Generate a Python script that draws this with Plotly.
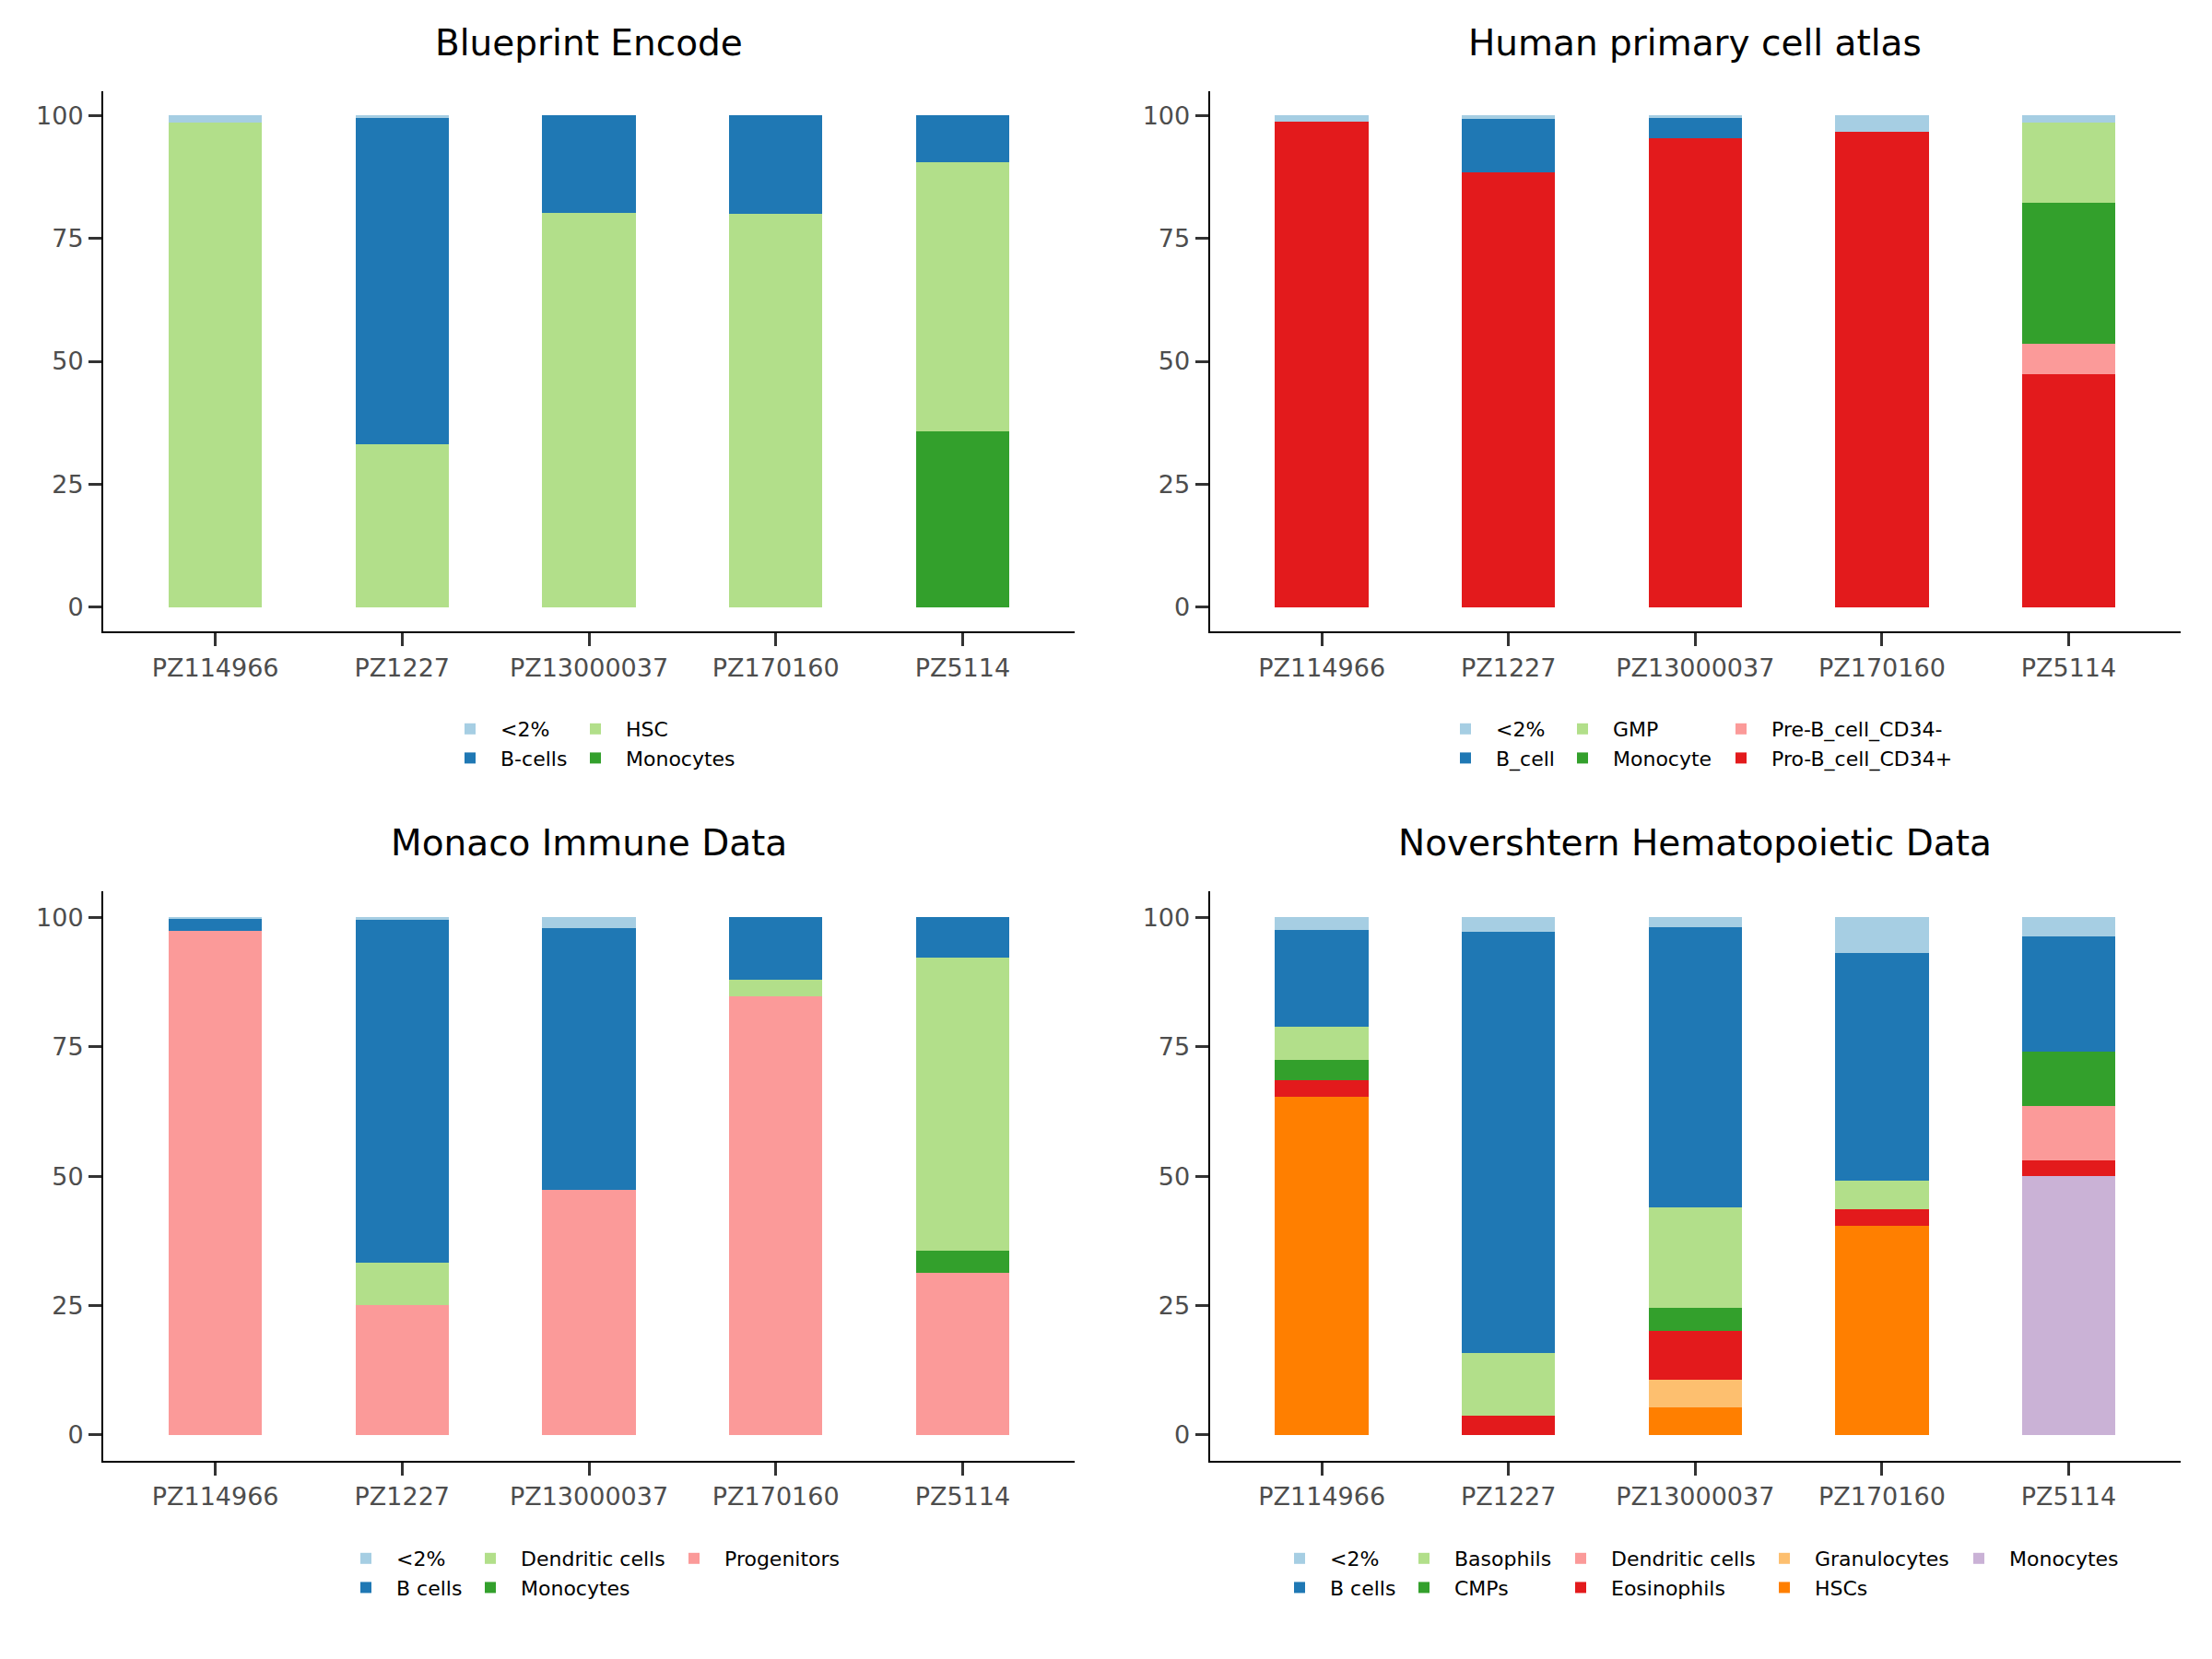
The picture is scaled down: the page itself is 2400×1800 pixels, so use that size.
import plotly.graph_objects as go
from plotly.subplots import make_subplots

samples = ["PZ114966", "PZ1227", "PZ13000037", "PZ170160", "PZ5114"]
paired = ["#A6CEE3", "#1F78B4", "#B2DF8A", "#33A02C", "#FB9A99",
          "#E31A1C", "#FDBF6F", "#FF7F00", "#CAB2D6"]

# percentages per cell type, one list per type in sample order
blueprint_types = ["<2%", "B-cells", "HSC", "Monocytes"]
blueprint_pct = [
    [1.4, 0.5, 0.0, 0.0, 0.0],
    [0.0, 66.3, 19.8, 20.0, 9.5],
    [98.6, 33.2, 80.2, 80.0, 54.8],
    [0.0, 0.0, 0.0, 0.0, 35.7],
]

hpca_types = ["<2%", "B_cell", "GMP", "Monocyte", "Pre-B_cell_CD34-", "Pro-B_cell_CD34+"]
hpca_pct = [
    [1.3, 0.7, 0.5, 3.3, 1.4],
    [0.0, 10.8, 4.2, 0.0, 0.0],
    [0.0, 0.0, 0.0, 0.0, 16.4],
    [0.0, 0.0, 0.0, 0.0, 28.6],
    [0.0, 0.0, 0.0, 0.0, 6.3],
    [98.7, 88.5, 95.3, 96.7, 47.3],
]

monaco_types = ["<2%", "B cells", "Dendritic cells", "Monocytes", "Progenitors"]
monaco_pct = [
    [0.3, 0.5, 2.1, 0.0, 0.0],
    [2.3, 66.3, 50.6, 12.0, 7.8],
    [0.0, 8.1, 0.0, 3.3, 56.6],
    [0.0, 0.0, 0.0, 0.0, 4.3],
    [97.4, 25.1, 47.3, 84.7, 31.3],
]

nover_types = ["<2%", "B cells", "Basophils", "CMPs", "Dendritic cells",
               "Eosinophils", "Granulocytes", "HSCs", "Monocytes"]
nover_pct = [
    [2.5, 2.8, 1.9, 6.9, 3.7],
    [18.6, 81.4, 54.2, 44.0, 22.2],
    [6.4, 12.1, 19.4, 5.5, 0.0],
    [4.0, 0.0, 4.4, 0.0, 10.6],
    [0.0, 0.0, 0.0, 0.0, 10.5],
    [3.1, 3.7, 9.5, 3.2, 3.0],
    [0.0, 0.0, 5.3, 0.0, 0.0],
    [65.4, 0.0, 5.3, 40.4, 0.0],
    [0.0, 0.0, 0.0, 0.0, 50.0],
]

panels = [
    ("Blueprint Encode", blueprint_types, blueprint_pct),
    ("Human primary cell atlas", hpca_types, hpca_pct),
    ("Monaco Immune Data", monaco_types, monaco_pct),
    ("Novershtern Hematopoietic Data", nover_types, nover_pct),
]

W, H = 2400, 1800
x_dom = [(112, 1166), (1312.6, 2366)]
y_dom = [(98.6, 685.4), (967.2, 1584.9)]
title_y = [46, 914]
legend_top = [770, 1670]
legend_cols = [[500, 636], [1580, 1707, 1879], [387, 522, 743],
               [1400, 1535, 1705, 1926, 2137]]

fig = make_subplots(rows=2, cols=2)
layout_legends = {}
n_leg = 0

for i, (title, types, pct) in enumerate(panels):
    row, col = i // 2 + 1, i % 2 + 1
    leg_ids = []
    for c, kx in enumerate(legend_cols[i]):
        n_leg += 1
        lid = "legend" if n_leg == 1 else "legend%d" % n_leg
        leg_ids.append(lid)
        layout_legends[lid] = dict(
            x=(kx - 23) / W, xanchor="left",
            y=1 - legend_top[row - 1] / H, yanchor="top",
            orientation="v", traceorder="normal", itemwidth=56,
            tracegroupgap=0, bgcolor="rgba(0,0,0,0)", borderwidth=0,
            font=dict(size=22, color="black", family="DejaVu Sans"),
        )
    # add bottom of the stack first
    for k in reversed(range(len(types))):
        fig.add_trace(go.Bar(
            x=samples, y=pct[k], name=types[k], width=0.5,
            marker=dict(color=paired[k], line=dict(width=0)),
            legend=leg_ids[k // 2], legendrank=k + 1,
        ), row=row, col=col)

    x0, x1 = x_dom[col - 1]
    y0, y1 = y_dom[row - 1]
    fig.update_xaxes(domain=[x0 / W, x1 / W], row=row, col=col)
    fig.update_yaxes(domain=[1 - y1 / H, 1 - y0 / H], row=row, col=col)
    fig.add_annotation(
        text=title, xref="paper", yref="paper",
        x=(x0 + x1) / 2 / W, y=1 - title_y[row - 1] / H,
        xanchor="center", yanchor="middle", showarrow=False,
        font=dict(size=39, color="black", family="DejaVu Sans"),
    )

axis_style = dict(
    showline=True, linecolor="black", linewidth=2,
    ticks="outside", ticklen=14, tickwidth=3, tickcolor="#333333",
    tickfont=dict(size=27, color="#4D4D4D", family="DejaVu Sans"),
    showgrid=False, zeroline=False,
)
fig.update_xaxes(type="category", range=[-0.6, 4.6], **axis_style)
fig.update_yaxes(range=[-5, 105], tickvals=[0, 25, 50, 75, 100], **axis_style)

fig.update_layout(
    barmode="stack", width=W, height=H,
    margin=dict(l=0, r=0, t=0, b=0),
    plot_bgcolor="white", paper_bgcolor="white",
    font=dict(family="DejaVu Sans"),
    **layout_legends,
)

fig.write_html("out.html", config={"displayModeBar": False},
               post_script="document.body.style.margin = '0';")
